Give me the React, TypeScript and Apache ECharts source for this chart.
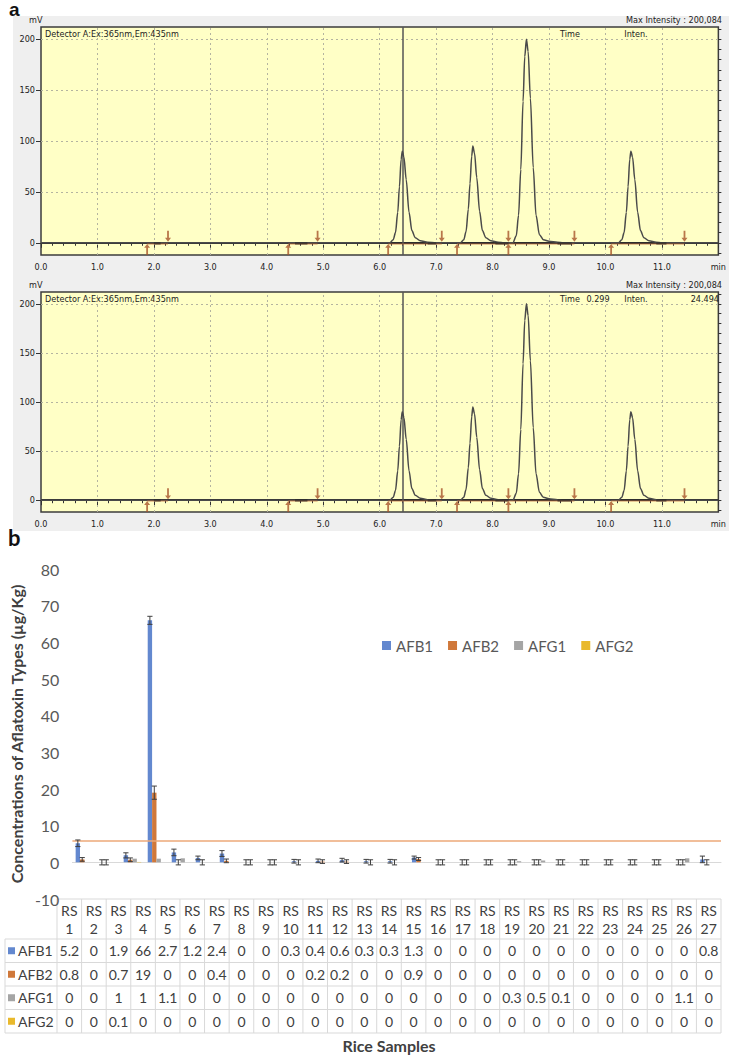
import React, { useEffect, useRef } from "react";
import * as echarts from "echarts";

// ---------------- Panel a : chromatogram data ----------------
const chromPoints: [number, number][] = [
  [0, 0], [6.18, 0], [6.24, 3], [6.28, 10], [6.32, 30], [6.35, 55], [6.38, 82], [6.4, 90], [6.43, 84],
  [6.47, 62], [6.52, 30], [6.57, 12], [6.63, 5], [6.72, 2], [6.85, 0.5], [7.0, 0],
  [7.43, 0], [7.49, 3], [7.53, 11], [7.57, 33], [7.6, 58], [7.63, 85], [7.65, 95], [7.68, 88],
  [7.72, 64], [7.77, 31], [7.82, 12], [7.88, 5], [7.97, 2], [8.1, 0.5], [8.2, 0],
  [8.36, 0], [8.42, 7], [8.46, 27], [8.5, 72], [8.54, 139], [8.57, 183], [8.6, 200], [8.63, 188],
  [8.67, 142], [8.72, 74], [8.77, 27], [8.83, 8], [8.9, 3], [9.0, 1.5], [9.15, 0.5], [9.25, 0],
  [10.23, 0], [10.29, 3], [10.33, 10], [10.37, 30], [10.4, 55], [10.43, 82], [10.45, 90], [10.48, 84],
  [10.52, 62], [10.57, 30], [10.62, 12], [10.68, 5], [10.77, 2], [10.9, 0.5], [11.0, 0], [12, 0],
];
const peakStartTimes = [1.88, 4.38, 6.15, 7.37, 8.28, 10.1];
const peakEndTimes = [2.25, 4.9, 7.1, 8.28, 9.45, 11.4];
const baselineSegments: [number, number][] = [
  [1.88, 2.25], [4.38, 4.9], [6.15, 7.1], [7.37, 8.28], [8.28, 9.45], [10.1, 11.4],
];
const darkSegments: [number, number][] = [
  [2.0, 2.12], [4.5, 4.72], [6.85, 7.0], [8.05, 8.28], [9.15, 9.4], [10.9, 11.08],
];
const cursorTime = 6.4;
const mvLabels = [0, 50, 100, 150, 200];
const mvMinor = [-10, 0, 10, 20, 30, 40, 50, 60, 70, 80, 90, 100, 110, 120, 130, 140, 150, 160, 170, 180, 190, 200, 210];
const minuteGrid = [1, 2, 3, 4, 5, 6, 7, 8, 9, 10, 11];
const panelHeaders = [
  { mv: "mV", max: "Max Intensity : 200,084", detector: "Detector A:Ex:365nm,Em:435nm", time: "", inten: "" },
  { mv: "mV", max: "Max Intensity : 200,084", detector: "Detector A:Ex:365nm,Em:435nm", time: "0.299", inten: "24.494" },
];

// ---------------- Panel b : aflatoxin data ----------------
const samples = [
  "RS 1", "RS 2", "RS 3", "RS 4", "RS 5", "RS 6", "RS 7", "RS 8", "RS 9", "RS 10", "RS 11", "RS 12", "RS 13", "RS 14",
  "RS 15", "RS 16", "RS 17", "RS 18", "RS 19", "RS 20", "RS 21", "RS 22", "RS 23", "RS 24", "RS 25", "RS 26", "RS 27",
];
const afb1 = [5.2, 0, 1.9, 66, 2.7, 1.2, 2.4, 0, 0, 0.3, 0.4, 0.6, 0.3, 0.3, 1.3, 0, 0, 0, 0, 0, 0, 0, 0, 0, 0, 0, 0.8];
const afb2 = [0.8, 0, 0.7, 19, 0, 0, 0.4, 0, 0, 0, 0.2, 0.2, 0, 0, 0.9, 0, 0, 0, 0, 0, 0, 0, 0, 0, 0, 0, 0];
const afg1 = [0, 0, 1, 1, 1.1, 0, 0, 0, 0, 0, 0, 0, 0, 0, 0, 0, 0, 0, 0.3, 0.5, 0.1, 0, 0, 0, 0, 1.1, 0];
const afg2 = [0, 0, 0.1, 0, 0, 0, 0, 0, 0, 0, 0, 0, 0, 0, 0, 0, 0, 0, 0, 0, 0, 0, 0, 0, 0, 0, 0];
const afb1Err = [0.9, 0.7, 0.7, 1.1, 0.9, 0.5, 0.8, 0.7, 0.7, 0.5, 0.5, 0.5, 0.5, 0.5, 0.4, 0.7, 0.7, 0.7, 0.7, 0.7, 0.7, 0.7, 0.7, 0.7, 0.7, 0.7, 0.9];
const afb2Err = [0.5, 0.7, 0.5, 1.8, 0.7, 0.7, 0.5, 0.7, 0.7, 0.7, 0.5, 0.5, 0.7, 0.7, 0.4, 0.7, 0.7, 0.7, 0.7, 0.7, 0.7, 0.7, 0.7, 0.7, 0.7, 0.7, 0.7];
const limitValue = 5.8;
const seriesNames = ["AFB1", "AFB2", "AFG1", "AFG2"];
const seriesColors = ["#6388cf", "#d0783a", "#a5a5a5", "#e9b92c"];
const yTitle = "Concentrations of Aflatoxin Types (µg/Kg)";
const xTitle = "Rice Samples";

// ---------------- layout ----------------
const W = 729;
const H = 1055;
const FONT_A = '"Liberation Sans Narrow", "DejaVu Sans Condensed", "Liberation Sans", sans-serif';
const FONT_B = 'Lato, "Open Sans", "Noto Sans", sans-serif';
const chromGrids = [
  { top: 27, height: 228 },
  { top: 292, height: 220 },
];
const CH_LEFT = 41;
const CH_WIDTH = 681;
const B_LEFT = 57;
const B_RIGHT = 721;
const B_TOP = 569;
const B_BOTTOM = 899;
const BAR_GAP = 0.27;

const upArrow = "path://M5,0L10,5L6.5,5L6.5,14L3.5,14L3.5,5L0,5Z";

function buildOption() {
  const grids: any[] = [];
  const xAxes: any[] = [];
  const yAxes: any[] = [];
  const series: any[] = [];
  const graphics: any[] = [];

  graphics.push({ type: "rect", z: -10, shape: { x: 13, y: 16, width: 716, height: 515 }, style: { fill: "#efefef" } });
  graphics.push({ type: "text", left: 9, top: 0, style: { text: "a", fontSize: 19, fontWeight: "bold", fill: "#111", fontFamily: "Liberation Sans, Arial, sans-serif" } });

  chromGrids.forEach((g, k) => {
    grids.push({
      left: CH_LEFT, top: g.top, width: CH_WIDTH, height: g.height, show: true,
      backgroundColor: "#ffffc6", borderColor: "#3c3c3c", borderWidth: 1.5,
    });
    xAxes.push({
      gridIndex: k, type: "value", min: 0, max: 12, interval: 1,
      axisLine: { show: false }, splitLine: { show: false },
      axisTick: { show: true, length: 5, lineStyle: { color: "#333" } },
      minorTick: { show: true, splitNumber: 5, length: 3, lineStyle: { color: "#333" } },
      axisLabel: {
        fontSize: 9, color: "#222", margin: 7, fontFamily: FONT_A, showMinLabel: true, showMaxLabel: true,
        formatter: (v: number) => (v === 12 ? "min" : v.toFixed(1)),
      },
    });
    yAxes.push({
      gridIndex: k, type: "value", min: -12, max: 212,
      axisLine: { show: false }, splitLine: { show: false },
      axisTick: { show: true, customValues: mvLabels, length: 5, lineStyle: { color: "#333" } },
      axisLabel: { customValues: mvLabels, fontSize: 9, color: "#222", margin: 6, fontFamily: FONT_A },
    });
    yAxes.push({
      gridIndex: k, type: "value", min: -12, max: 212,
      axisLine: { show: false }, splitLine: { show: false }, axisLabel: { show: false },
      axisTick: { show: true, customValues: mvMinor, length: 3, lineStyle: { color: "#333" } },
    });
    const yi = k * 2;
    series.push({
      type: "line", xAxisIndex: k, yAxisIndex: yi, data: chromPoints, showSymbol: false,
      smooth: 0.3, smoothMonotone: "x", lineStyle: { color: "#4a4a4a", width: 1.5 }, z: 5,
      markLine: {
        silent: true, symbol: "none", label: { show: false },
        lineStyle: { type: [2, 3], color: "#b4b4a0", width: 1 },
        data: [
          ...minuteGrid.map((t) => ({ xAxis: t })),
          ...mvLabels.filter((v) => v > 0).map((v) => ({ yAxis: v })),
          { yAxis: 0, lineStyle: { type: "solid", color: "#2d2d2d", width: 2 } },
          { xAxis: cursorTime, lineStyle: { type: "solid", color: "#555", width: 1.5 } },
        ],
      },
    });
    series.push({
      type: "lines", coordinateSystem: "cartesian2d", xAxisIndex: k, yAxisIndex: yi, z: 6,
      lineStyle: { color: "#c0683a", width: 1.6 },
      data: baselineSegments.map(([a, b]) => ({ coords: [[a, -1], [b, -1]] })),
    });
    series.push({
      type: "lines", coordinateSystem: "cartesian2d", xAxisIndex: k, yAxisIndex: yi, z: 6,
      lineStyle: { color: "#1e1e1e", width: 2.6 },
      data: darkSegments.map(([a, b]) => ({ coords: [[a, 0], [b, 0]] })),
    });
    series.push({
      type: "scatter", xAxisIndex: k, yAxisIndex: yi, z: 7, symbol: upArrow, symbolSize: [6, 11],
      itemStyle: { color: "#a8552a" }, data: peakStartTimes.map((t) => [t, -6.5]),
    });
    series.push({
      type: "scatter", xAxisIndex: k, yAxisIndex: yi, z: 7, symbol: upArrow, symbolSize: [6, 11], symbolRotate: 180,
      itemStyle: { color: "#a8552a" }, data: peakEndTimes.map((t) => [t, 6.5]),
    });

    const h = panelHeaders[k];
    const txt = { fontSize: 9, fill: "#222", fontFamily: FONT_A };
    graphics.push({ type: "text", x: 29, y: g.top - 12, style: { ...txt, text: h.mv } });
    graphics.push({ type: "text", x: 722, y: g.top - 12, style: { ...txt, text: h.max, align: "right" } });
    graphics.push({ type: "text", x: CH_LEFT + 4, y: g.top + 2, style: { ...txt, text: h.detector } });
    graphics.push({ type: "text", x: 570, y: g.top + 2, style: { ...txt, text: "Time", align: "center" } });
    graphics.push({ type: "text", x: 636, y: g.top + 2, style: { ...txt, text: "Inten.", align: "center" } });
    if (h.time) graphics.push({ type: "text", x: 598, y: g.top + 2, style: { ...txt, text: h.time, align: "center" } });
    if (h.inten) graphics.push({ type: "text", x: 719, y: g.top + 2, style: { ...txt, text: h.inten, align: "right" } });
  });

  // ---------------- panel b ----------------
  const bg = grids.length;
  grids.push({ left: B_LEFT, top: B_TOP, width: B_RIGHT - B_LEFT, height: B_BOTTOM - B_TOP });
  const bx = xAxes.length;
  const by = yAxes.length;
  xAxes.push({
    gridIndex: bg, type: "category", data: samples,
    axisLine: { show: true, onZero: true, lineStyle: { color: "#d9d9d9", width: 1 } },
    axisTick: { show: false }, axisLabel: { show: false }, splitLine: { show: false },
  });
  yAxes.push({
    gridIndex: bg, type: "value", min: -10, max: 80, interval: 10,
    axisLine: { show: false }, axisTick: { show: false }, splitLine: { show: false },
    axisLabel: { fontSize: 16, color: "#595959", margin: 13, fontFamily: FONT_B },
    name: yTitle, nameLocation: "middle", nameGap: 45,
    nameTextStyle: { fontSize: 16, fontWeight: "bold", color: "#404040", fontFamily: FONT_B },
  });
  const values = [afb1, afb2, afg1, afg2];
  values.forEach((vals, i) => {
    series.push({
      type: "bar", name: seriesNames[i], xAxisIndex: bx, yAxisIndex: by, data: vals,
      barCategoryGap: `${BAR_GAP * 100}%`, barGap: "0%", itemStyle: { color: seriesColors[i] }, z: 3,
      ...(i === 0
        ? {
            markLine: {
              silent: true, symbol: "none", label: { show: false },
              lineStyle: { type: "solid", color: "#eda878", width: 1.6 },
              data: [{ yAxis: limitValue }],
            },
          }
        : {}),
    });
  });
  const errs = [afb1Err, afb2Err];
  errs.forEach((err, i) => {
    const vals = values[i];
    series.push({
      type: "custom", xAxisIndex: bx, yAxisIndex: by, z: 10,
      data: vals.map((v, j) => [j, v, err[j]]),
      renderItem: (params: any, api: any) => {
        const x = api.value(0);
        const v = api.value(1);
        const e = api.value(2);
        const hi = api.coord([x, v + e]);
        const lo = api.coord([x, v - e]);
        const band = api.size([1, 0])[0];
        const bw = (band * (1 - BAR_GAP)) / 4;
        const cx = hi[0] + (i - 1.5) * bw;
        const cap = 2.6;
        const ls = { stroke: "#3f3f3f", lineWidth: 1 };
        return {
          type: "group",
          children: [
            { type: "line", shape: { x1: cx, y1: hi[1], x2: cx, y2: lo[1] }, style: ls },
            { type: "line", shape: { x1: cx - cap, y1: hi[1], x2: cx + cap, y2: hi[1] }, style: ls },
            { type: "line", shape: { x1: cx - cap, y1: lo[1], x2: cx + cap, y2: lo[1] }, style: ls },
          ],
        };
      },
    });
  });

  graphics.push({ type: "text", x: 8, y: 526, style: { text: "b", fontSize: 22, fontWeight: "bold", fill: "#111", fontFamily: FONT_B } });

  // data table
  const colW = (B_RIGHT - B_LEFT) / samples.length;
  const tLeft = 5;
  const hTop = 899;
  const hBottom = 939;
  const rowH = 23.5;
  const border = { stroke: "#d9d9d9", lineWidth: 1 };
  const tableBottom = hBottom + rowH * 4;
  graphics.push({ type: "line", shape: { x1: B_LEFT, y1: hTop, x2: B_RIGHT, y2: hTop }, style: border });
  for (let r = 0; r <= 4; r++) {
    const y = hBottom + r * rowH;
    graphics.push({ type: "line", shape: { x1: tLeft, y1: y, x2: B_RIGHT, y2: y }, style: border });
  }
  graphics.push({ type: "line", shape: { x1: tLeft, y1: hBottom, x2: tLeft, y2: tableBottom }, style: border });
  for (let c = 0; c <= samples.length; c++) {
    const x = B_LEFT + c * colW;
    graphics.push({ type: "line", shape: { x1: x, y1: hTop, x2: x, y2: tableBottom }, style: border });
  }
  const tTxt = { fontSize: 14, fill: "#404040", fontFamily: FONT_B, align: "center", verticalAlign: "middle" };
  samples.forEach((s, c) => {
    const cx = B_LEFT + (c + 0.5) * colW;
    const [a, b] = s.split(" ");
    graphics.push({ type: "text", x: cx, y: hTop + 11, style: { ...tTxt, text: a } });
    graphics.push({ type: "text", x: cx, y: hTop + 29, style: { ...tTxt, text: b } });
  });
  values.forEach((vals, r) => {
    const cy = hBottom + (r + 0.5) * rowH;
    graphics.push({ type: "rect", shape: { x: 8, y: cy - 3.5, width: 7, height: 7 }, style: { fill: seriesColors[r] } });
    graphics.push({ type: "text", x: 18, y: cy, style: { ...tTxt, align: "left", text: seriesNames[r] } });
    vals.forEach((v, c) => {
      const cx = B_LEFT + (c + 0.5) * colW;
      graphics.push({ type: "text", x: cx, y: cy, style: { ...tTxt, text: String(v) } });
    });
  });
  graphics.push({
    type: "text", x: (B_LEFT + B_RIGHT) / 2, y: 1045,
    style: { text: xTitle, fontSize: 16, fontWeight: "bold", fill: "#404040", fontFamily: FONT_B, align: "center", verticalAlign: "middle" },
  });

  return {
    animation: false,
    backgroundColor: "#ffffff",
    grid: grids,
    xAxis: xAxes,
    yAxis: yAxes,
    legend: {
      data: seriesNames, left: 377, top: 633, icon: "rect", itemWidth: 9, itemHeight: 9, itemGap: 15,
      textStyle: { fontSize: 15, color: "#595959", fontFamily: FONT_B }, selectedMode: false,
    },
    graphic: graphics,
    series,
  };
}

export default function App() {
  const ref = useRef<HTMLDivElement>(null);
  useEffect(() => {
    if (!ref.current) return;
    const chart = echarts.init(ref.current, undefined, { renderer: "svg" });
    chart.setOption(buildOption() as any);
    return () => chart.dispose();
  }, []);
  return <div ref={ref} style={{ position: "absolute", left: 0, top: 0, width: W, height: H }} />;
}
